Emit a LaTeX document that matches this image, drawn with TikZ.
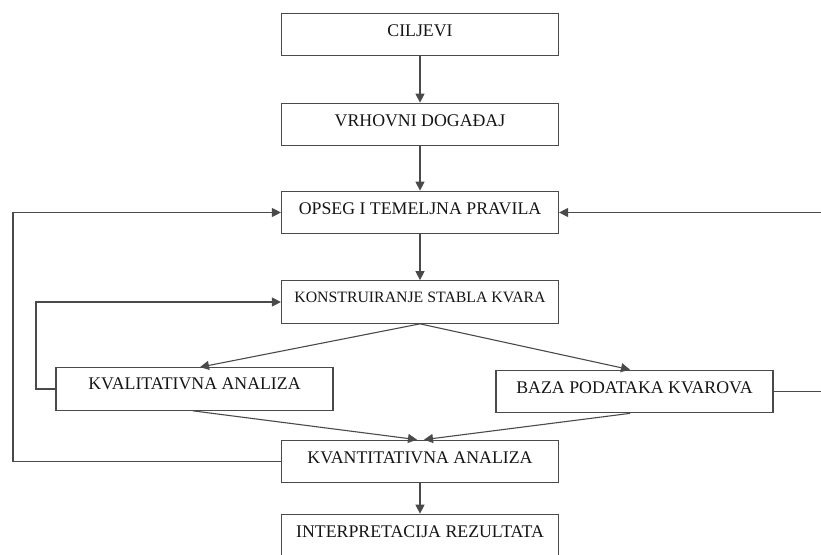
\documentclass[tikz,border=0pt]{standalone}
\usepackage{fontspec}
\setmainfont{Liberation Serif}
\usetikzlibrary{arrows.meta}
\definecolor{linegray}{HTML}{4A4A4A}
\definecolor{txt}{HTML}{151515}
\tikzset{
  box/.style={draw=linegray, line width=1.2pt, minimum width=277pt, minimum height=42.5pt,
    inner sep=0pt, text height=11.5pt, text depth=8.5pt, text=txt,
    font=\fontsize{17.8}{20}\selectfont},
  conn/.style={draw=linegray, line width=1.1pt, -{Triangle[length=9pt,width=9pt]}},
  plain/.style={draw=linegray, line width=1.1pt}
}
\begin{document}
\begin{tikzpicture}[x=1pt,y=-1pt]
\useasboundingbox (0,0) rectangle (821,554);
\node[box] (cilj) at (420,34.5) {CILJEVI};
\node[box] (vrh) at (420,124.5) {VRHOVNI DOGAĐAJ};
\node[box] (opseg) at (420,212.5) {OPSEG I TEMELJNA PRAVILA};
\node[box, font=\fontsize{15.8}{18}\selectfont, text depth=10.5pt] (konst) at (420,302) {KONSTRUIRANJE STABLA KVARA};
\node[box, text depth=10.5pt] (kval) at (194.5,389) {KVALITATIVNA ANALIZA};
\node[box] (baza) at (634.5,391.5) {BAZA PODATAKA KVAROVA};
\node[box] (kvant) at (420,461.5) {KVANTITATIVNA ANALIZA};
\node[box, text depth=7.5pt] (interp) at (420,535.5) {INTERPRETACIJA REZULTATA};
\coordinate (lo) at (13,0);
\coordinate (li) at (36,0);
\coordinate (ro) at (832,0);
\draw[conn] (cilj) -- (vrh);
\draw[conn] (vrh) -- (opseg);
\draw[conn] (opseg) -- (konst);
\draw[conn] (konst.south) -- ([xshift=5.5pt]kval.north);
\draw[conn] (konst.south) -- ([xshift=-4.5pt]baza.north);
\draw[conn] ([xshift=-1.5pt]kval.south) -- ([xshift=-3pt]kvant.north);
\draw[conn] ([xshift=-4.5pt]baza.south) -- ([xshift=4pt]kvant.north);
\draw[conn] (kvant) -- (interp);
\draw[conn] (kvant.west) -- (kvant.west -| lo) |- (opseg.west);
\draw[conn] (kval.west) -- (kval.west -| li) |- (konst.west);
\draw[conn] (baza.east) -- (baza.east -| ro) |- (opseg.east);
\end{tikzpicture}
\end{document}
